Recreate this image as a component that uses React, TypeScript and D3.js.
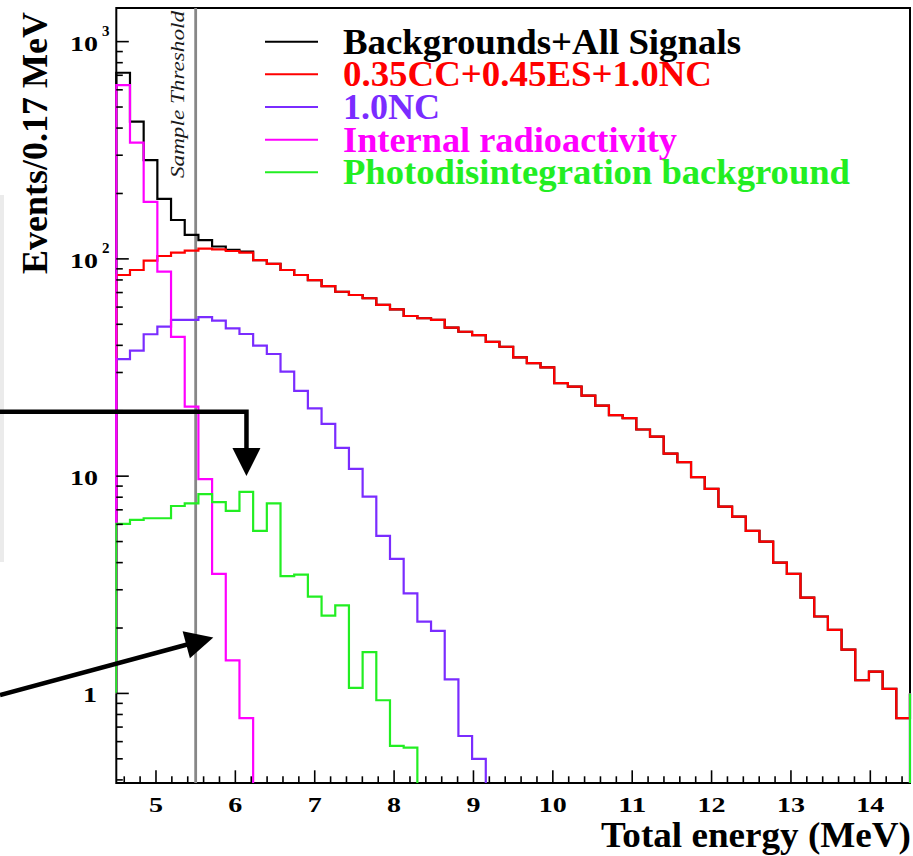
import React from "react";
import * as d3 from "d3";

// ---- data ----
const X_MIN = 4.5;
const X_MAX = 14.5;
const N_BINS = 58; // bin width 10/58 ≈ 0.17 MeV
const Y_MIN = 0.387;
const Y_MAX = 1428;
const THRESHOLD = 5.5;

const totalAll = [
  719, 428, 285, 189, 151, 129, 122, 114, 110, 108,
  98.8, 94.8, 88.9, 84.3, 79.9, 75.0, 70.6, 68.2, 65.9, 61.4,
  58.6, 54.6, 53.3, 52.4, 48.3, 46.2, 44.6, 41.5, 39.4, 35.2,
  33.1, 31.7, 26.8, 25.8, 23.5, 21.1, 19.1, 18.5, 16.4, 15.2,
  12.7, 11.6, 9.89, 8.73, 7.24, 6.51, 5.6, 5.0, 4.0, 3.55,
  2.76, 2.26, 1.96, 1.59, 1.15, 1.26, 1.05, 0.77,
];
const signals = [
  84.3, 88.9, 98.2, 103.1, 106.9, 109.1, 111.4, 110.7, 108.7, 106.9,
  98.8, 94.8, 88.9, 84.3, 79.9, 75.0, 70.6, 68.2, 65.9, 61.4,
  58.6, 54.6, 53.3, 52.4, 48.3, 46.2, 44.6, 41.5, 39.4, 35.2,
  33.1, 31.7, 26.8, 25.8, 23.5, 21.1, 19.1, 18.5, 16.4, 15.2,
  12.7, 11.6, 9.89, 8.73, 7.24, 6.51, 5.6, 5.0, 4.0, 3.55,
  2.76, 2.26, 1.96, 1.59, 1.15, 1.26, 1.05, 0.77,
];
const nc = [
  34.6, 37.8, 45.0, 48.8, 52.4, 52.4, 53.9, 52.0, 47.9, 45.1,
  39.9, 36.5, 30.3, 24.7, 20.5, 17.4, 13.5, 10.8, 8.05, 5.31,
  4.16, 2.89, 2.14, 1.94, 1.16, 0.637, 0.5, 0, 0, 0,
  0, 0, 0, 0, 0, 0, 0, 0, 0, 0,
  0, 0, 0, 0, 0, 0, 0, 0, 0, 0,
  0, 0, 0, 0, 0, 0, 0, 0,
];
const internal = [
  631, 343, 183, 87.3, 43.8, 20.9, 9.7, 3.55, 1.42, 0.77,
  0, 0, 0, 0, 0, 0, 0, 0, 0, 0,
  0, 0, 0, 0, 0, 0, 0, 0, 0, 0,
  0, 0, 0, 0, 0, 0, 0, 0, 0, 0,
  0, 0, 0, 0, 0, 0, 0, 0, 0, 0,
  0, 0, 0, 0, 0, 0, 0, 0,
];
const photo = [
  6.03, 6.29, 6.4, 6.4, 7.29, 7.5, 8.26, 7.59, 6.92, 8.46,
  5.6, 7.5, 3.47, 3.52, 2.79, 2.28, 2.54, 1.06, 1.55, 0.93,
  0.574, 0.563, 0, 0, 0, 0, 0, 0, 0, 0,
  0, 0, 0, 0, 0, 0, 0, 0, 0, 0,
  0, 0, 0, 0, 0, 0, 0, 0, 0, 0,
  0, 0, 0, 0, 0, 0, 0, 0,
];

const seriesNames = [
  "Backgrounds+All Signals",
  "0.35CC+0.45ES+1.0NC",
  "1.0NC",
  "Internal radioactivity",
  "Photodisintegration background",
];
const seriesValues = [totalAll, signals, nc, internal, photo];
const seriesColors = ["#000000", "#ff0000", "#7a2cff", "#ff00ff", "#22ee22"];

const xTickLabels = [5, 6, 7, 8, 9, 10, 11, 12, 13, 14];
const yMajorTicks = [1, 10, 100, 1000];
const yTickLabels = ["1", "10", "10|2", "10|3"];

const xTitle = "Total energy (MeV)";
const yTitle = "Events/0.17 MeV";
const thresholdLabel = "Sample Threshold";
const arrowTargetEnergy = 6.14;

// ---- layout ----
const W = 913;
const H = 856;
const P = { left: 116.3, right: 910, top: 8, bottom: 783 };
const SERIF = "'Liberation Serif', 'Times New Roman', Times, serif";
const legendWidths = [398, 369, 97, 334, 507];

export default function App() {
  const x = d3.scaleLinear().domain([X_MIN, X_MAX]).range([P.left, P.right]);
  const y = d3.scaleLog().domain([Y_MIN, Y_MAX]).range([P.bottom, P.top]);
  const edges = d3.range(N_BINS + 1).map((i) => X_MIN + (i * (X_MAX - X_MIN)) / N_BINS);
  const yv = (v: number) => (v > 0 ? y(v) : P.bottom + 12);

  const histPath = (vals: number[]) => {
    let d = `M${x(edges[0])},${y(1)}`;
    vals.forEach((v, i) => {
      d += `L${x(edges[i])},${yv(v)}L${x(edges[i + 1])},${yv(v)}`;
    });
    d += `L${x(edges[N_BINS])},${y(1)}`;
    return d;
  };

  const xTicks = d3.range(23, 73).map((i) => i / 5);
  const yTicks = y.ticks();

  const arrowHead = (tx: number, ty: number, angle: number, len: number, wid: number) => {
    const ca = Math.cos(angle), sa = Math.sin(angle);
    const bx = tx - len * ca, by = ty - len * sa;
    const px = -sa * (wid / 2), py = ca * (wid / 2);
    return `M${tx},${ty}L${bx + px},${by + py}L${bx - px},${by - py}Z`;
  };
  const a1x = x(arrowTargetEnergy);
  const a1y = 411.7;
  const a1tip = 476;
  const a2start: [number, number] = [0, 695];
  const a2tip: [number, number] = [213.3, 637.5];
  const a2ang = Math.atan2(a2tip[1] - a2start[1], a2tip[0] - a2start[0]);
  const headLen = 28;

  return (
    <svg
      width={W}
      height={H}
      style={{ position: "absolute", left: 0, top: 0, background: "#fff" }}
      fontFamily={SERIF}
    >
      <rect x={0} y={0} width={W} height={H} fill="#fff" />
      <rect x={0} y={195} width={4} height={367} fill="#ebebeb" />
      <defs>
        <clipPath id="plotclip">
          <rect x={P.left - 1.5} y={P.top - 1} width={P.right - P.left + 3} height={P.bottom - P.top + 1} />
        </clipPath>
      </defs>

      {/* frame */}
      <rect
        x={P.left}
        y={P.top}
        width={P.right - P.left}
        height={P.bottom - P.top}
        fill="none"
        stroke="#000"
        strokeWidth={2}
      />

      {/* threshold line */}
      <line
        x1={x(THRESHOLD)}
        x2={x(THRESHOLD)}
        y1={P.top}
        y2={P.bottom}
        stroke="#878787"
        strokeWidth={2.8}
      />
      <text
        transform={`translate(${x(THRESHOLD) - 11.5},178) rotate(-90)`}
        fontSize={19}
        fontStyle="italic"
        fill="#1a1a1a"
        textLength={167}
        lengthAdjust="spacingAndGlyphs"
      >
        {thresholdLabel}
      </text>

      {/* histograms */}
      <g clipPath="url(#plotclip)">
        {seriesValues.map((vals, i) => (
          <path key={i} d={histPath(vals)} fill="none" stroke={seriesColors[i]} strokeWidth={2.2} />
        ))}
      </g>

      {/* x ticks */}
      {xTicks.map((t, i) => {
        const major = Math.abs(t - Math.round(t)) < 1e-6;
        return (
          <line
            key={`xt${i}`}
            x1={x(t)}
            x2={x(t)}
            y1={P.bottom}
            y2={P.bottom - (major ? 12.7 : 6.7)}
            stroke="#000"
            strokeWidth={1.6}
          />
        );
      })}
      {xTickLabels.map((t) => {
        const s = String(t);
        const len = 14 * s.length;
        return (
          <text
            key={`xl${t}`}
            x={x(t) - len / 2}
            y={811.5}
            fontSize={22}
            fontWeight="bold"
            textLength={len}
            lengthAdjust="spacingAndGlyphs"
          >
            {s}
          </text>
        );
      })}

      {/* y ticks */}
      {yTicks.map((t, i) => {
        const lg = Math.log10(t);
        const major = Math.abs(lg - Math.round(lg)) < 1e-6;
        return (
          <line
            key={`yt${i}`}
            x1={P.left}
            x2={P.left + (major ? 12.5 : 6.5)}
            y1={y(t)}
            y2={y(t)}
            stroke="#000"
            strokeWidth={1.6}
          />
        );
      })}
      {yMajorTicks.map((t, i) => {
        const [base, sup] = yTickLabels[i].split("|");
        const len = 14 * base.length;
        const yy = y(t);
        return (
          <g key={`yl${t}`}>
            <text
              x={98 - len + (base.length === 1 ? -1 : 0)}
              y={yy + 9}
              fontSize={22}
              fontWeight="bold"
              textLength={len}
              lengthAdjust="spacingAndGlyphs"
            >
              {base}
            </text>
            {sup && (
              <text x={102} y={yy - 5.5} fontSize={15} fontWeight="bold">
                {sup}
              </text>
            )}
          </g>
        );
      })}

      {/* axis titles */}
      <text
        x={911 - 310}
        y={847}
        fontSize={35}
        fontWeight="bold"
        textLength={310}
        lengthAdjust="spacingAndGlyphs"
      >
        {xTitle}
      </text>
      <text
        transform="translate(47,12) rotate(-90)"
        fontSize={36}
        fontWeight="bold"
        textAnchor="end"
      >
        {yTitle}
      </text>

      {/* legend */}
      {seriesNames.map((name, i) => {
        const ry = 41.7 + i * 32.65;
        return (
          <g key={`lg${i}`}>
            <line x1={265} x2={318} y1={ry} y2={ry} stroke={seriesColors[i]} strokeWidth={2} />
            <text
              x={343}
              y={ry + 12}
              fontSize={36}
              fontWeight="bold"
              fill={seriesColors[i]}
              textLength={legendWidths[i]}
              lengthAdjust="spacingAndGlyphs"
            >
              {name}
            </text>
          </g>
        );
      })}

      {/* arrows */}
      <path
        d={`M0,${a1y}L${a1x},${a1y}L${a1x},${a1tip - headLen + 2}`}
        fill="none"
        stroke="#000"
        strokeWidth={4.5}
      />
      <path d={arrowHead(a1x, a1tip, Math.PI / 2, headLen, 28)} fill="#000" />
      <line
        x1={a2start[0]}
        y1={a2start[1]}
        x2={a2tip[0] - (headLen - 2) * Math.cos(a2ang)}
        y2={a2tip[1] - (headLen - 2) * Math.sin(a2ang)}
        stroke="#000"
        strokeWidth={4.5}
      />
      <path d={arrowHead(a2tip[0], a2tip[1], a2ang, headLen, 28)} fill="#000" />
    </svg>
  );
}
